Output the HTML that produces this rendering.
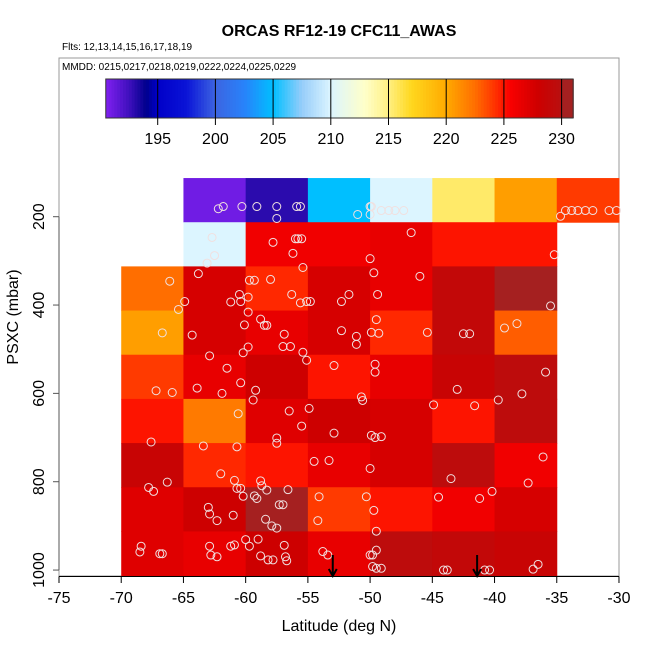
<!DOCTYPE html>
<html><head><meta charset="utf-8"><style>
html,body{margin:0;padding:0;background:#fff;}
svg text{font-family:"Liberation Sans",sans-serif;}
</style></head><body>
<svg id="chart" width="650" height="650" viewBox="0 0 650 650" xmlns="http://www.w3.org/2000/svg">
<text x="339" y="36" text-anchor="middle" font-size="16" font-weight="bold">ORCAS RF12-19 CFC11_AWAS</text>
<text x="62" y="50" font-size="10">Flts: 12,13,14,15,16,17,18,19</text>
<rect x="59" y="58" width="560" height="518" fill="none" stroke="#999" stroke-width="1"/>
<text x="62" y="70" font-size="10">MMDD: 0215,0217,0218,0219,0222,0224,0225,0229</text>
<g id="colorbar"></g>
<g id="cells"></g>
<g id="points"></g>
<g id="axes"></g>
<text x="339" y="631" text-anchor="middle" font-size="16">Latitude (deg N)</text>
<text transform="translate(18,317) rotate(-90)" text-anchor="middle" font-size="16">PSXC (mbar)</text>
</svg>
<script>
const latEdges = [-70,-65,-60,-55,-50,-45,-40,-35,-30];
const pEdges = [112.5,212.5,312.5,412.5,512.5,612.5,712.5,812.5,912.5,1012.5];
const cellValues = [
 [null,191,193,205,210,215.5,220.5,224],
 [null,210,226,226,226.5,225,225,null],
 [222.5,227.5,224.5,227.5,226.5,229,231,null],
 [220.5,227.5,226.5,227.5,224.5,229,223,null],
 [224,226.5,228,225,226.5,228.5,229.5,null],
 [225,222,227,228,227.5,225,229.5,null],
 [228.5,224.5,225,226.5,227.5,229.5,226,null],
 [227,228,230.5,224,225,226,227.5,null],
 [227,226.5,228,226.5,229.5,229,228.5,null]
];
const xTicks = [-75,-70,-65,-60,-55,-50,-45,-40,-35,-30];
const yTicks = [200,400,600,800,1000];
const cbTicks = [195,200,205,210,215,220,225,230];
const arrowLats = [-53,-41.4];
const pointLat = [-62.2,-61.8,-60.3,-59.1,-57.5,-57.5,-55.9,-55.6,-51,-50,-49.9,-50,-49.1,-48.5,-48,-47.3,-34.7,-34.3,-33.8,-33.3,-32.7,-32.1,-30.8,-30.2,
-62.7,-62.5,-63.1,-57.8,-56,-55.8,-55.5,-56.2,-55.4,-46.7,-50,-35.2,
-63.8,-66.1,-64.9,-65.4,-61.2,-60.5,-60.4,-59.8,-59.7,-59.3,-58,-56.3,-55.6,-55.1,-54.8,-52.3,-51.7,-49.7,-49.4,-46,-35.5,
-59.8,-58.8,-58.5,-58.3,-60.1,-64.3,-66.7,-59.8,-60.2,-56.9,-57,-56.4,-55.4,-52.3,-51.1,-51.1,-49.9,-49.3,-49.5,-45.4,-42.5,-42,-39.2,-38.2,
-62.9,-61.5,-63.9,-61.9,-60.4,-59.2,-67.2,-65.9,-55.1,-52.9,-49.6,-49.6,-43,-35.9,-37.8,-39.7,-50.7,-50.6,
-59.4,-60.6,-56.5,-54.9,-67.6,-63.4,-60.7,-57.5,-57.5,-55.5,-52.9,-49.9,-49.6,-49.1,-44.9,-41.6,
-54.5,-53.3,-50,-36.1,-37.3,-43.5,-62,-66.3,-67.8,-67.4,-60.9,-60.7,-60.4,-60.2,-58.8,-58.7,-58.3,-56.6,-59.3,-59.1,
-63,-62.9,-62.3,-61,-57.3,-57,-58.4,-57.9,-57.5,-54.1,-54.2,-50.3,-49.7,-49.5,-44.5,-41.2,-40.2,
-68.4,-68.5,-66.9,-66.7,-62.9,-62.8,-62.3,-61.2,-60.9,-60,-59.7,-59,-58.8,-58.2,-57.8,-56.8,-56.9,-56.7,-53.8,-53.4,-50,-49.8,-49.5,-49.8,-49.5,-49.1,-44.1,-43.8,-40.8,-40.4,-36.9,-36.5];
const pointP = [182,177,177,177,177,204,177,177,195,177,177,195,186,186,186,186,199,186,186,186,186,186,186,186,
247,288,305,258,250,250,250,283,315,236,295,286,
329,346,392,410,393,376,392,382,344,344,342,376,395,392,392,392,376,327,376,335,402,
416,432,446,446,445,468,463,495,508,466,494,494,507,458,471,489,462,464,433,462,465,465,452,442,
515,543,588,600,576,593,594,598,525,537,534,552,591,552,601,615,608,616,
615,646,640,634,710,719,721,701,713,674,690,695,700,698,626,628,
754,752,770,744,803,793,782,801,813,822,797,815,815,833,798,809,819,818,832,838,
858,873,888,876,852,852,885,900,905,834,888,834,865,912,835,838,822,
946,959,963,963,946,966,970,946,943,931,946,930,968,977,977,970,944,979,958,966,966,966,955,992,996,996,1000,1000,1000,1000,998,987];

const NS='http://www.w3.org/2000/svg';
function X(lat){return 59+(lat+75)*12.444;}
function Y(p){return 216.7+(p-200)*0.4417;}
function CB(v){return 157.7+(v-195)*11.54;}
const stops=[[190.5,[128,32,240]],[192.5,[64,16,190]],[194,[0,0,140]],[195,[0,0,200]],[197.5,[10,20,215]],[200,[60,100,225]],[202.5,[40,130,250]],[205,[0,191,255]],[207.5,[150,205,250]],[210,[220,245,255]],[213,[255,255,200]],[215,[255,240,130]],[217,[255,215,30]],[220,[255,170,0]],[222.5,[255,110,0]],[224.5,[255,40,0]],[225.5,[250,0,0]],[228,[205,0,0]],[229.9,[185,15,15]],[230.1,[165,32,32]],[232,[165,32,32]]];
function col(v){
 for(let i=0;i<stops.length-1;i++){const a=stops[i],b=stops[i+1];
  if(v<=b[0]){const t=Math.max(0,(v-a[0])/(b[0]-a[0]));
   const c=a[1].map((x,k)=>Math.round(x+(b[1][k]-x)*t));return 'rgb('+c.join(',')+')';}}
 return 'rgb(165,32,32)';}
function mk(tag,attrs,parent){const e=document.createElementNS(NS,tag);for(const k in attrs)e.setAttribute(k,attrs[k]);parent.appendChild(e);return e;}

// colorbar
const cb=document.getElementById('colorbar');
for(let v=190.5;v<231;v+=0.25){
 const r=mk('rect',{x:CB(v),y:79,width:11.54*0.25+0.6,height:39,fill:col(v+0.125)},cb);
 
 
}
const cbf=mk('rect',{x:CB(190.5),y:79,width:CB(231)-CB(190.5),height:39,fill:'none',stroke:'#333','stroke-width':1},cb);


cbTicks.forEach(t=>{
 const l=mk('line',{x1:CB(t),x2:CB(t),y1:79,y2:125,stroke:'#000','stroke-width':1},cb);
 
 
 const tx=mk('text',{x:CB(t),y:144,'text-anchor':'middle','font-size':16},cb);
 tx.textContent=t;
 
 
});
// cells
const cg=document.getElementById('cells');
cellValues.forEach((row,i)=>row.forEach((v,j)=>{
 if(v===null)return;
 const r=mk('rect',{x:X(latEdges[j]),y:Y(pEdges[i]),width:X(latEdges[j+1])-X(latEdges[j])+0.5,height:Y(pEdges[i+1])-Y(pEdges[i])+0.5,fill:col(v)},cg);
 
 
}));
// points
const pg=document.getElementById('points');
pointLat.forEach((lat,i)=>{
 const c=mk('circle',{cx:X(lat),cy:Y(pointP[i]),r:4,fill:'none',stroke:'#f0e0e0','stroke-width':1},pg);
 
 
});
// axes
const ax=document.getElementById('axes');
const xl=mk('line',{x1:X(-75),x2:X(-30),y1:576.5,y2:576.5,stroke:'#000'},ax);


xTicks.forEach(t=>{
 const l=mk('line',{x1:X(t),x2:X(t),y1:576.5,y2:583,stroke:'#000'},ax);
 
 
 const tx=mk('text',{x:X(t),y:603,'text-anchor':'middle','font-size':16},ax);
 tx.textContent=t;
 
 
});
const yl=mk('line',{x1:59,x2:59,y1:Y(200),y2:Y(1000),stroke:'#555'},ax);


yTicks.forEach(t=>{
 const l=mk('line',{x1:53,x2:59,y1:Y(t),y2:Y(t),stroke:'#555'},ax);
 
 
 const tx=mk('text',{transform:'translate(44,'+Y(t)+') rotate(-90)','text-anchor':'middle','font-size':16},ax);
 tx.textContent=t;
 
 
});
arrowLats.forEach(lat=>{
 const a=mk('path',{d:'M'+X(lat)+' 555 L'+X(lat)+' 576 M'+(X(lat)-4)+' 569 L'+X(lat)+' 576 L'+(X(lat)+4)+' 569',stroke:'#000','stroke-width':2,fill:'none'},ax);
 
 
});
</script>
</body></html>
